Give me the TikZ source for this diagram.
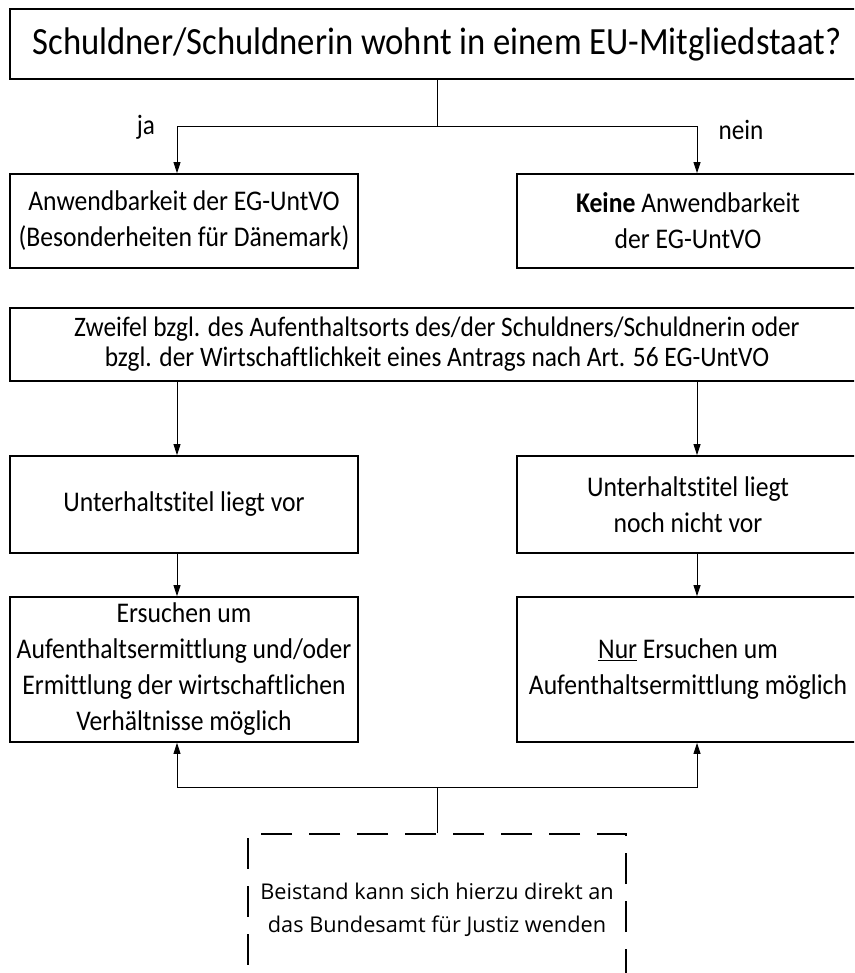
\documentclass[tikz,border=0pt]{standalone}
\usepackage{fontspec}
\setmainfont{Carlito}[FakeStretch=0.9, Ligatures=NoCommon]
\newfontfamily\notefont{Open Sans}
\usetikzlibrary{arrows.meta}
\tikzset{
  box/.style={draw, line width=1.8pt, rectangle, inner sep=0pt, align=center,
    font=\fontsize{28.5}{36}\selectfont},
  conn/.style={line width=0.9pt},
  arr/.style={conn, -{Triangle[length=11pt,width=7pt]}},
  lbl/.style={font=\fontsize{28}{30}\selectfont, inner sep=0pt},
  notebox/.style={draw, line width=1.8pt, dash pattern=on 31pt off 17pt, rectangle,
    inner sep=0pt, align=center, font=\notefont\fontsize{21.7}{33}\selectfont},
}
\begin{document}
\begin{tikzpicture}[x=1pt,y=-1pt]
\useasboundingbox (0,0) rectangle (854,973);
\clip (0,0) rectangle (854,973);
\fill[white] (0,0) rectangle (854,973);

\node[box, minimum width=854pt, minimum height=70pt, font=\fontsize{38.5}{44}\selectfont] (q) at (437,44) {Schuldner/Schuldnerin wohnt in einem EU-Mitgliedstaat?};

\node[box, minimum width=348pt, minimum height=94pt] (a) at (184,221) {Anwendbarkeit der EG-UntVO\\(Besonderheiten für Dänemark)};
\node[box, minimum width=342pt, minimum height=94pt] (b) at (688,221) {\textbf{Keine} Anwendbarkeit\\der EG-UntVO};

\node[box, minimum width=854pt, minimum height=73pt, font=\fontsize{28.2}{30}\selectfont] (z) at (437,344.5) {Zweifel bzgl. des Aufenthaltsorts des/der Schuldners/Schuldnerin oder\\bzgl. der Wirtschaftlichkeit eines Antrags nach Art. 56 EG-UntVO};

\node[box, minimum width=348pt, minimum height=97pt] (c) at (184,504.5) {Unterhaltstitel liegt vor};
\node[box, minimum width=342pt, minimum height=97pt] (d) at (688,504.5) {Unterhaltstitel liegt\\noch nicht vor};

\node[box, minimum width=348pt, minimum height=145pt] (e) at (184,669.5) {Ersuchen um\\Aufenthaltsermittlung und/oder\\Ermittlung der wirtschaftlichen\\Verhältnisse möglich};
\node[box, minimum width=342pt, minimum height=145pt] (f) at (688,669.5) {\underline{Nur} Ersuchen um\\Aufenthaltsermittlung möglich};

\node[notebox, minimum width=378pt, minimum height=152pt] (g) at (437,910) {Beistand kann sich hierzu direkt an\\das Bundesamt für Justiz wenden};

\coordinate (j1) at (177,126);
\coordinate (j2) at (697,126);
\coordinate (k1) at (177,787);
\coordinate (k2) at (697,787);

\draw[conn] (q.south) -- (q.south |- j1);
\draw[arr] (q.south |- j1) -- (j1) -- (j1 |- a.north);
\draw[arr] (q.south |- j1) -- (j2) -- (j2 |- b.north);
\node[lbl] (ja) at (146,127) {ja};
\node[lbl] (nein) at (741,130) {nein};

\draw[arr] (z.south -| j1) -- (c.north -| j1);
\draw[arr] (z.south -| j2) -- (d.north -| j2);
\draw[arr] (c.south -| j1) -- (e.north -| j1);
\draw[arr] (d.south -| j2) -- (f.north -| j2);

\draw[conn] (g.north) -- (g.north |- k1);
\draw[arr] (g.north |- k1) -- (k1) -- (e.south -| k1);
\draw[arr] (g.north |- k1) -- (k2) -- (f.south -| k2);
\end{tikzpicture}
\end{document}
